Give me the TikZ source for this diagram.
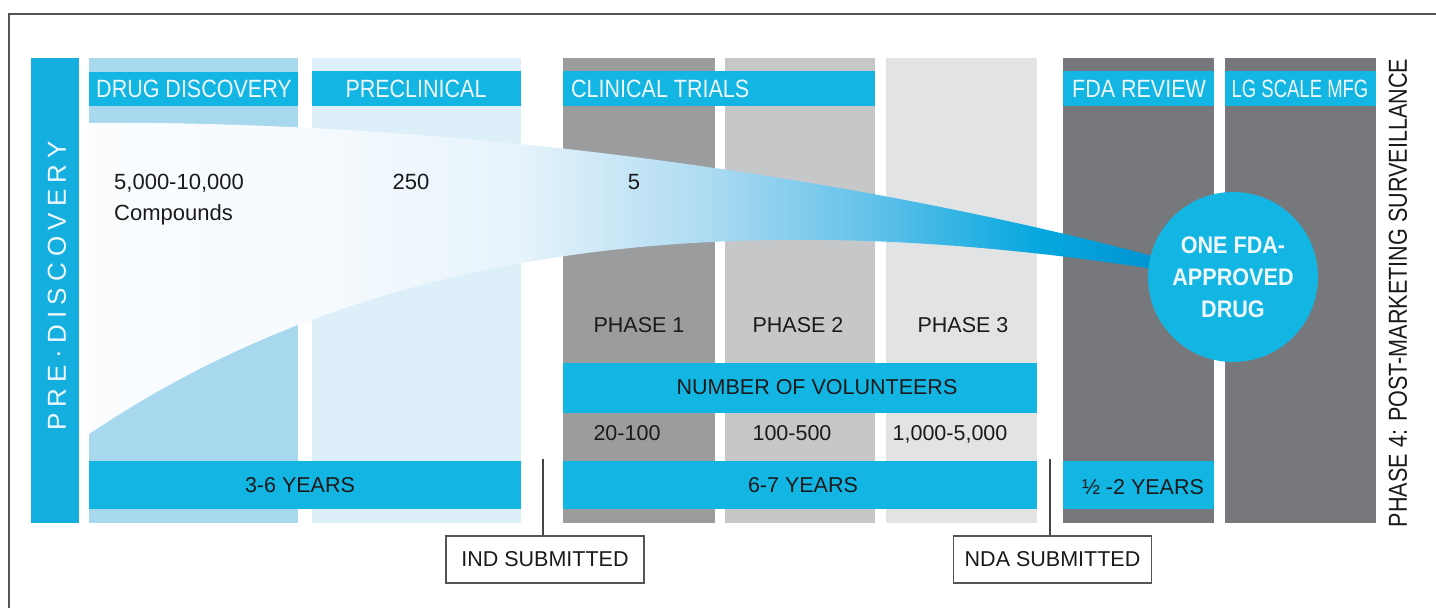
\documentclass[tikz,border=0pt]{standalone}
\usepackage{fontspec}
\setmainfont{Liberation Sans}
\newfontfamily\hdrfont[FakeStretch=0.86]{Liberation Sans}
\newfontfamily\tightfont[FakeStretch=0.74]{Liberation Sans}
\newfontfamily\sidefont[FakeStretch=0.83]{Liberation Sans}
\newfontfamily\roundfont[FakeStretch=0.9]{Liberation Sans}
\newfontfamily\spacedfont[LetterSpace=24]{Liberation Sans}

\definecolor{bandblue}{HTML}{13B5E3}
\definecolor{barblue}{HTML}{14AEDF}
\definecolor{discblue}{HTML}{A7D8EE}
\definecolor{preblue}{HTML}{DDEFF9}
\definecolor{phaseA}{HTML}{9B9C9E}
\definecolor{phaseB}{HTML}{C6C7C9}
\definecolor{phaseC}{HTML}{E2E3E5}
\definecolor{darkcol}{HTML}{77787B}
\definecolor{inktext}{HTML}{1A1A1A}
\definecolor{hdrtext}{HTML}{EEF8FC}
\definecolor{framegray}{HTML}{555555}
% funnel gradient stops, white on the left to deep blue on the right
\definecolor{fz0}{HTML}{FAFCFE}
\definecolor{fz1}{HTML}{F7FBFE}
\definecolor{fz2}{HTML}{E6F3FB}
\definecolor{fz3}{HTML}{B0DCF2}
\definecolor{fz4}{HTML}{5EC0E9}
\definecolor{fz5}{HTML}{05A7DF}
\definecolor{fz6}{HTML}{0093D2}
\pgfdeclarehorizontalshading{funnelshade}{100bp}{color(0bp)=(fz0); color(25bp)=(fz0); color(34.85bp)=(fz1); color(45.1bp)=(fz2); color(53.5bp)=(fz3); color(61.9bp)=(fz4); color(69.4bp)=(fz5); color(75bp)=(fz6); color(100bp)=(fz6)}

\tikzset{
  hdr/.style={text=hdrtext, inner sep=0pt, font=\hdrfont\fontsize{25}{25}\selectfont},
  body/.style={text=inktext, inner sep=0pt, font=\fontsize{22}{26}\selectfont},
  small/.style={text=inktext, inner sep=0pt, font=\fontsize{21.5}{26}\selectfont},
  subbox/.style={draw=framegray, line width=1.5pt, fill=white, minimum width=198pt, minimum height=47pt, inner sep=0pt, text=inktext, font=\fontsize{21.5}{26}\selectfont},
  conn/.style={draw=framegray!80!black, line width=2pt},
}

\begin{document}
\begin{tikzpicture}[x=1pt,y=-1pt]
\useasboundingbox (0,0) rectangle (1436,608);
\fill[white] (0,0) rectangle (1436,608);

% open frame: left and top edges
\draw[framegray, line width=2.5pt] (9,608) -- (9,14) -- (1436,14);

% pre-discovery bar
\fill[barblue] (31,58) rectangle (79,523);

% stage columns
\fill[discblue] (89,58) rectangle (298,523);
\fill[preblue] (312,58) rectangle (521,523);
\fill[phaseA] (563,58) rectangle (715,523);
\fill[phaseB] (725,58) rectangle (875,523);
\fill[phaseC] (886,58) rectangle (1037,523);
\fill[darkcol] (1063,58) rectangle (1214,523);
\fill[darkcol] (1225,58) rectangle (1376,523);

% narrowing funnel of candidates
\shade[shading=funnelshade] (89,123) .. controls (450,120) and (850,175) .. (1160,258)
  -- (1160,270) .. controls (620,185) and (300,292) .. (89,434) -- cycle;

% header bands
\fill[bandblue] (89,72) rectangle (298,106);
\fill[bandblue] (312,71) rectangle (521,106);
\fill[bandblue] (563,71) rectangle (875,106);
\fill[bandblue] (1063,71) rectangle (1214,106);
\fill[bandblue] (1225,71) rectangle (1376,106);

% volunteers and duration bands
\fill[bandblue] (563,363) rectangle (1037,413);
\fill[bandblue] (89,461) rectangle (521,509);
\fill[bandblue] (563,461) rectangle (1037,509);
\fill[bandblue] (1063,461) rectangle (1214,509);

% approved drug
\node[circle, fill=bandblue, minimum size=170pt, inner sep=0pt, align=center,
      text=hdrtext, font=\roundfont\bfseries\fontsize{24}{32}\selectfont]
      (drug) at (1233,277) {ONE FDA-\\APPROVED\\DRUG};

% header labels
\node[hdr] (hdisc) at (194,89) {DRUG DISCOVERY};
\node[hdr] (hpre) at (416,89) {PRECLINICAL};
\node[hdr, anchor=west] (hclin) at (571,89) {CLINICAL TRIALS};
\node[hdr] (hfda) at (1139,89) {FDA REVIEW};
\node[hdr, font=\tightfont\fontsize{25}{25}\selectfont] (hmfg) at (1300,89) {LG SCALE MFG};

% side labels
\node[rotate=90, text=hdrtext, inner sep=0pt, font=\spacedfont\fontsize{26}{26}\selectfont]
  (prelbl) at (57,286) {PRE·DISCOVERY};
\node[rotate=90, text=inktext, inner sep=0pt, font=\sidefont\fontsize{26}{26}\selectfont]
  (phase4) at (1398,293) {PHASE 4: POST-MARKETING SURVEILLANCE};

% compound counts
\node[body, anchor=base west] (cnt1) at (114,189) {5,000-10,000};
\node[body, anchor=base west] (cnt1b) at (114,220) {Compounds};
\node[body, anchor=base] (cnt2) at (411,189) {250};
\node[body, anchor=base] (cnt3) at (634,189) {5};

% trial phases
\node[small] (ph1) at (639,325) {PHASE 1};
\node[small] (ph2) at (798,325) {PHASE 2};
\node[small] (ph3) at (963,325) {PHASE 3};
\node[small] (vol) at (817,387) {NUMBER OF VOLUNTEERS};
\node[small, anchor=base] (v1) at (627,440) {20-100};
\node[small, anchor=base] (v2) at (792,440) {100-500};
\node[small, anchor=base] (v3) at (950,440) {1,000-5,000};

% durations
\node[small] (y1) at (300,485) {3-6 YEARS};
\node[small] (y2) at (803,485) {6-7 YEARS};
\node[small] (y3) at (1143,487) {½ -2 YEARS};

% submission milestones
\node[subbox] (ind) at (545,559.5) {IND SUBMITTED};
\node[subbox] (nda) at (1052.5,559.5) {NDA SUBMITTED};
\coordinate (indtick) at (543,459);
\coordinate (ndatick) at (1050,459);
\draw[conn] (indtick) -- (indtick |- ind.north);
\draw[conn] (ndatick) -- (ndatick |- nda.north);
\end{tikzpicture}
\end{document}
